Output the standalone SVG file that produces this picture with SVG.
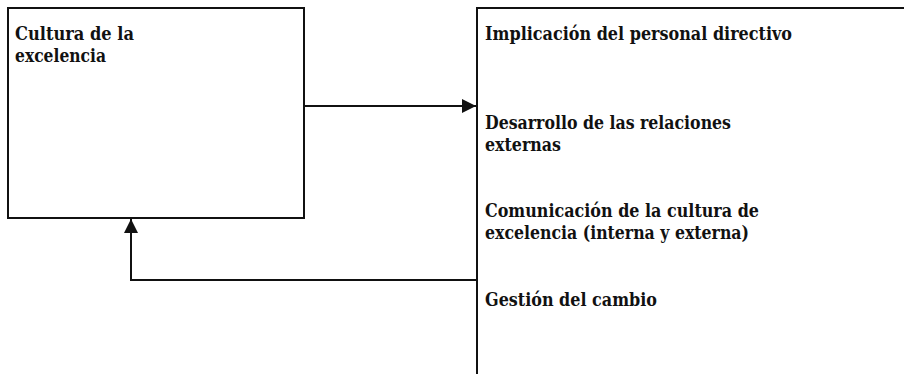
<svg xmlns="http://www.w3.org/2000/svg" width="904" height="374" viewBox="0 0 904 374">
<style>
.box{fill:#fff;stroke:#111;stroke-width:2}
.c{fill:none;stroke:#111;stroke-width:2}
text{font-family:"DejaVu Serif","Liberation Serif",serif;font-weight:bold;font-size:19px;fill:#111}
</style>
<defs>
<marker id="ah" viewBox="0 0 14 14" refX="14" refY="7" markerWidth="14" markerHeight="14" markerUnits="userSpaceOnUse" orient="auto">
<path d="M0,0 L14,7 L0,14 Z" fill="#111"/>
</marker>
</defs>
<rect width="904" height="374" fill="#fff"/>
<g id="node-cultura">
<rect class="box" x="8" y="8" width="296" height="210"/>
<text x="15" y="40" textLength="119" lengthAdjust="spacingAndGlyphs">Cultura de la</text>
<text x="15" y="62" textLength="91" lengthAdjust="spacingAndGlyphs">excelencia</text>
</g>
<g id="node-factores">
<rect class="box" x="477" y="8" width="500" height="420"/>
<text x="485" y="40" textLength="307" lengthAdjust="spacingAndGlyphs">Implicación del personal directivo</text>
<text x="485" y="129" textLength="246" lengthAdjust="spacingAndGlyphs">Desarrollo de las relaciones</text>
<text x="485" y="151" textLength="76" lengthAdjust="spacingAndGlyphs">externas</text>
<text x="485" y="217" textLength="274" lengthAdjust="spacingAndGlyphs">Comunicación de la cultura de</text>
<text x="485" y="239" textLength="264" lengthAdjust="spacingAndGlyphs">excelencia (interna y externa)</text>
<text x="485" y="306" textLength="172" lengthAdjust="spacingAndGlyphs">Gestión del cambio</text>
</g>
<g id="connectors">
<path class="c" d="M304,106 L476,106" marker-end="url(#ah)"/>
<path class="c" d="M477,280 L131,280 L131,219" marker-end="url(#ah)"/>
</g>
</svg>
